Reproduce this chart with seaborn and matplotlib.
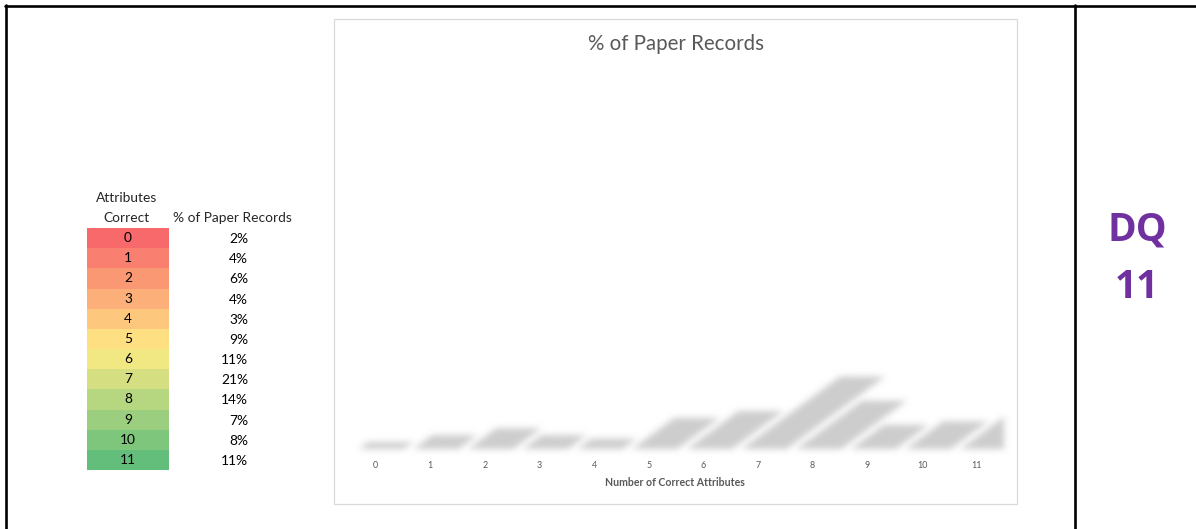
import numpy as np
import pandas as pd
import matplotlib
matplotlib.use("Agg")
import matplotlib.pyplot as plt
from matplotlib.colors import LinearSegmentedColormap, to_rgb
from matplotlib.patches import Rectangle
from matplotlib.lines import Line2D
from matplotlib.transforms import Affine2D
import seaborn as sns

# ---- data ----
attributes = [0, 1, 2, 3, 4, 5, 6, 7, 8, 9, 10, 11]
pct_paper = [2, 4, 6, 4, 3, 9, 11, 21, 14, 7, 8, 11]
tick_labels = [str(a) for a in attributes]
chart_title = "% of Paper Records"
x_title = "Number of Correct Attributes"
table_head_right = "% of Paper Records"
badge = "DQ\n11"

sns.set_theme(style="white")
plt.rcParams["font.family"] = ["Lato", "DejaVu Sans"]

W, H = 1196, 529
fig = plt.figure(figsize=(W / 100, H / 100), dpi=100)
fig.patch.set_facecolor("white")


def fx(x):
    return x / W


def fy(y):
    return 1 - y / H


def box(x0, y0, x1, y1):
    return [fx(x0), fy(y1), (x1 - x0) / W, (y1 - y0) / H]


# ---- outer frame lines ----
for xs, ys in [((5, W), (6, 6)), ((6, 6), (5, H)), ((1074.5, 1074.5), (5, H))]:
    fig.add_artist(Line2D([fx(v) for v in xs], [fy(v) for v in ys],
                          transform=fig.transFigure, color="black", lw=1.9))

# ---- chart area border ----
fig.add_artist(Rectangle((fx(334), fy(504)), (1017 - 334) / W, (504 - 19) / H,
                         transform=fig.transFigure, fill=False,
                         edgecolor="#d9d9d9", lw=0.9))
fig.text(fx(676), fy(44), chart_title, ha="center", va="center",
         fontsize=14.8, color="#595959")

# ---- bar chart (shadow-only bars) ----
shadow_gray = "#cdcdcd"
px_per_pct = 3.45
ax_top, ax_bot = 75, 449
ax = fig.add_axes(box(348, ax_top, 1004, ax_bot))
df = pd.DataFrame({"attr": tick_labels, "pct": pct_paper})
sns.barplot(data=df, x="attr", y="pct", color=shadow_gray, saturation=1,
            width=0.82, ax=ax, order=tick_labels)
ax.set_xlim(-0.5, 11.5)
ax.set_ylim(0, (ax_bot - ax_top) / px_per_pct)
for s in ax.spines.values():
    s.set_visible(False)
ax.set_yticks([])
ax.set_ylabel("")
ax.set_xlabel("")
ax.tick_params(axis="x", length=0, pad=9, labelsize=6.4, labelcolor="#595959")
ax.set_facecolor("none")

shadow_rgb = np.array(to_rgb(shadow_gray))


def soft_shadow(im, dpi):
    """Gaussian-blur the alpha channel, keep a flat shadow colour."""
    sigma = 3.3
    r = int(3 * sigma)
    k = np.exp(-0.5 * (np.arange(-r, r + 1) / sigma) ** 2)
    k /= k.sum()
    a = np.pad(im[..., 3], ((r, r), (r, r)))
    tmp = np.zeros_like(a)
    for i, w in enumerate(k):
        tmp += w * np.roll(a, i - r, axis=0)
    blurred = np.zeros_like(a)
    for i, w in enumerate(k):
        blurred += w * np.roll(tmp, i - r, axis=1)
    out = np.empty(blurred.shape + (4,), dtype=im.dtype)
    out[..., :3] = shadow_rgb
    out[..., 3] = blurred
    return out, -r, -r


fig.canvas.draw()
y0 = ax.transData.transform((0, 0))[1]
skew = Affine2D().translate(6, -y0).skew(np.arctan(1.36), 0).translate(0, y0)
for patch in ax.patches:
    patch.set_transform(ax.transData + skew)
    patch.set_edgecolor("none")
    patch.set_agg_filter(soft_shadow)

fig.text(fx(675), fy(482), x_title, ha="center", va="center",
         fontsize=7.6, fontweight="bold", color="#595959")

# ---- colour-scaled table ----
scale = LinearSegmentedColormap.from_list("rdylgn_xl", ["#F8696B", "#FFEB84", "#63BE7B"])
tab = fig.add_axes(box(87, 228, 169, 470))
cells = np.array(attributes).reshape(-1, 1)
sns.heatmap(cells, ax=tab, cmap=scale, vmin=min(attributes), vmax=max(attributes),
            cbar=False, annot=True, fmt="d", linewidths=0,
            annot_kws={"color": "black", "fontsize": 9.9},
            xticklabels=False, yticklabels=False)
row_h = (470 - 228) / 12
for i, v in enumerate(pct_paper):
    fig.text(fx(248), fy(229 + (i + 0.5) * row_h), f"{v}%",
             fontsize=9.9, ha="right", va="center", color="black")

fig.text(fx(127), fy(198), "Attributes", ha="center", va="center", fontsize=9.9)
fig.text(fx(127), fy(218), "Correct", ha="center", va="center", fontsize=9.9)
fig.text(fx(232), fy(218), table_head_right, ha="center", va="center", fontsize=9.9)

# ---- badge ----
for line, ypos in zip(badge.split("\n"), [230, 288]):
    fig.text(fx(1137), fy(ypos), line, ha="center", va="center",
             fontsize=28, fontweight="bold", color="#7030A0",
             family=["Open Sans", "DejaVu Sans"])

fig.savefig("out.png", dpi=100, facecolor="white")
